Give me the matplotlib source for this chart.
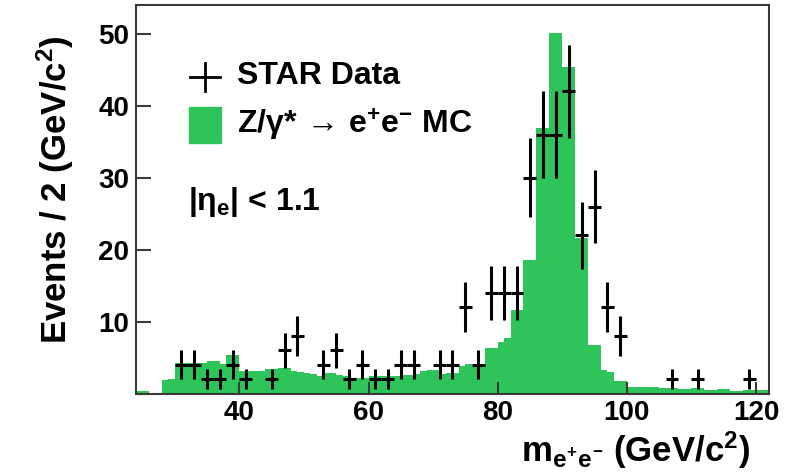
import numpy as np
import matplotlib.pyplot as plt
from matplotlib.patches import Rectangle

plt.rcParams['font.family'] = ['Liberation Sans', 'DejaVu Sans']
plt.rcParams['font.weight'] = 'bold'
plt.rcParams['axes.labelweight'] = 'bold'
plt.rcParams['mathtext.fontset'] = 'custom'
plt.rcParams['mathtext.rm'] = 'Liberation Sans:bold'
plt.rcParams['mathtext.it'] = 'Liberation Sans:bold'
plt.rcParams['mathtext.bf'] = 'Liberation Sans:bold'

# STAR data points (2 GeV bins, centre of bin)
data_mass = [31, 33, 35, 37, 39, 41, 45, 47, 49, 53, 55, 57, 59, 61, 63, 65, 67,
             71, 73, 75, 77, 79, 81, 83, 85, 87, 89, 91, 93, 95, 97, 99,
             107, 111, 119]
data_counts = [4, 4, 2, 2, 4, 2, 2, 6, 8, 4, 6, 2, 4, 2, 2, 4, 4,
               4, 4, 12, 4, 14, 14, 14, 30, 36, 36, 42, 22, 26, 12, 8,
               2, 2, 2]

# Z/gamma* -> ee MC, 1 GeV bins from 24 to 122
mc_edges = np.arange(24, 123)
mc_values = [0.3, 0.3, 0, 0, 1.9, 2.0, 4.2, 4.2, 4.2, 4.3, 4.3, 4.5, 4.5, 4.1, 5.3, 5.3, 3.1, 3.1, 3.1, 3.1,
             3.4, 3.4, 3.6, 3.6, 3.1, 3.0, 2.8, 2.7, 2.5, 2.8, 2.9, 2.6, 2.4, 2.2, 2.2, 2.2, 2.5, 2.5, 2.5, 2.5,
             2.4, 2.6, 2.6, 2.7, 3.1, 3.3, 3.3, 2.7, 2.8, 2.8, 3.8, 4.1, 4.0, 4.0, 6.3, 6.4, 7.2, 7.7, 11.6, 11.6,
             18.6, 18.6, 36.9, 36.9, 50.1, 50.1, 45.4, 45.4, 21.6, 21.6, 6.7, 6.7, 3.3, 3.0, 1.7, 1.8,
             0.9, 0.9, 0.9, 0.9, 0.9, 0.8, 0.8, 0.8, 0.7, 0.7, 0.8, 0.8, 0.5, 0.5, 0.6, 0.6, 0.3, 0.3,
             0.45, 0.45, 0.5, 0.5]

green = '#2ec45a'
frame = '#3a3a3a'

fig = plt.figure(figsize=(7.91, 4.73), dpi=100)
ax = fig.add_axes([0.172, 0.168, 0.800, 0.821])

ax.stairs(mc_values, mc_edges, fill=True, color=green, zorder=1)
ax.errorbar(data_mass, data_counts, xerr=1, yerr=np.sqrt(data_counts),
            fmt='none', ecolor='black', elinewidth=2.2, capsize=0, zorder=3)

ax.set_xlim(24, 122)
ax.set_ylim(0, 54)
ax.set_xticks([40, 60, 80, 100, 120])
ax.set_yticks([10, 20, 30, 40, 50])
ax.tick_params(axis='both', direction='in', width=1.5, color=frame, labelsize=20)
ax.tick_params(axis='y', length=11, pad=5)
ax.tick_params(axis='x', length=9, pad=5)
for s in ax.spines.values():
    s.set_linewidth(1.5)
    s.set_color(frame)

ax.set_ylabel('Events / 2 (GeV/c$^{2}$)', fontsize=25, fontweight='bold', va='center')
ax.yaxis.set_label_coords(-0.128, 0.524)
ax.set_xlabel(r'm$_{e^{+}e^{-}}$ (GeV/c$^{2}$)', fontsize=25, fontweight='bold',
              ha='right', va='baseline')
ax.xaxis.set_label_coords(0.97, -0.176)

# legend drawn by hand
ax.plot([0.085, 0.133], [0.816, 0.816], color='black', lw=2, transform=ax.transAxes)
ax.plot([0.109, 0.109], [0.780, 0.852], color='black', lw=2, transform=ax.transAxes)
ax.text(0.16, 0.818, 'STAR Data', fontsize=23, va='center', transform=ax.transAxes)
ax.add_patch(Rectangle((0.084, 0.646), 0.051, 0.091, color=green, transform=ax.transAxes))
ax.text(0.16, 0.691, r'Z/$\gamma$*$\,\rightarrow\,$e$^{+}$e$^{-}$ MC', fontsize=23,
        va='center', transform=ax.transAxes)
ax.text(0.082, 0.494, r'|$\eta_{e}$| < 1.1', fontsize=23, va='center', transform=ax.transAxes)

fig.savefig('out.png', dpi=100)
